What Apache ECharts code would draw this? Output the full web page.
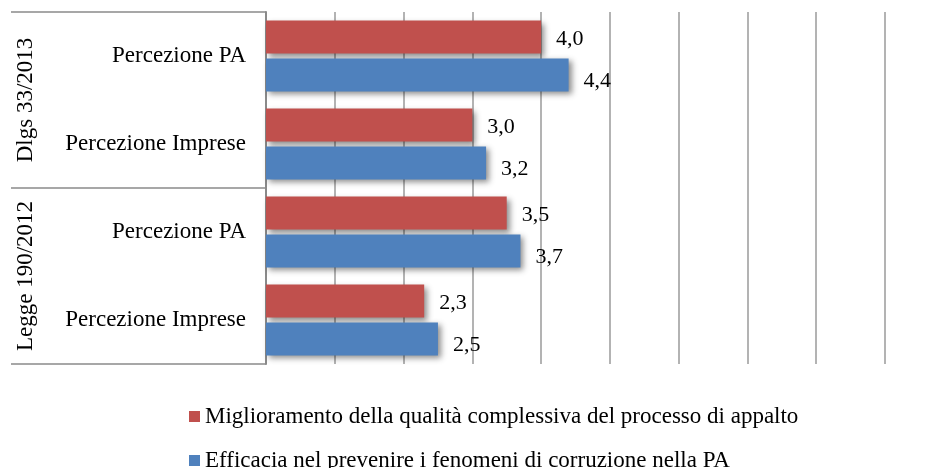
<!DOCTYPE html>
<html><head><meta charset="utf-8">
<script src="https://cdn.jsdelivr.net/npm/echarts@6/dist/echarts.min.js"></script>
<style>html,body{margin:0;padding:0;background:#fff}#c{width:942px;height:468px}</style>
</head><body><div id="c"></div>
<script>
var categories = ['Percezione PA', 'Percezione Imprese', 'Percezione PA', 'Percezione Imprese'];
var groups = ['Dlgs 33/2013', 'Legge 190/2012'];
var seriesNames = ['Miglioramento della qualità complessiva del processo di appalto', 'Efficacia nel prevenire i fenomeni di corruzione nella PA'];
var qualita = [4.0, 3.0, 3.5, 2.3];
var efficacia = [4.4, 3.2, 3.7, 2.5];
var xMin = 0, xMax = 9, xInterval = 1;

var FONT = 'Liberation Serif';
var chart = echarts.init(document.getElementById('c'), null, {renderer: 'canvas'});
function lbl(p){ return p.value.toFixed(1).replace('.', ','); }
var shadow = {shadowBlur: 6, shadowColor: 'rgba(0,0,0,0.45)', shadowOffsetX: 3, shadowOffsetY: 3};
var legendBase = {orient: 'horizontal', left: 184, itemWidth: 11, itemHeight: 11, icon: 'rect',
  textStyle: {fontFamily: FONT, fontSize: 23, color: '#000'}};
chart.setOption({
  animation: false,
  textStyle: {fontFamily: FONT},
  grid: {left: 266, right: 57, top: 12, bottom: 104, containLabel: false},
  xAxis: {
    type: 'value', min: xMin, max: xMax, interval: xInterval,
    axisLabel: {show: false}, axisLine: {show: false}, axisTick: {show: false},
    splitLine: {show: true, lineStyle: {color: '#9a9a9a', width: 1.5}}
  },
  yAxis: [{
    type: 'category', data: categories, inverse: true,
    axisLine: {show: true, lineStyle: {color: '#8a8a8a', width: 2}},
    axisTick: {show: false},
    axisLabel: {fontFamily: FONT, fontSize: 23, color: '#000', margin: 20, interval: 0}
  }, {
    type: 'category', data: groups, inverse: true, position: 'left',
    axisLine: {show: false},
    axisTick: {show: true, length: 255, lineStyle: {color: '#8a8a8a', width: 1.5}},
    axisLabel: {fontFamily: FONT, fontSize: 23, color: '#000', rotate: 90, margin: 229, interval: 0, hideOverlap: false}
  }],
  legend: [
    Object.assign({top: 400, data: [seriesNames[0]]}, legendBase),
    Object.assign({top: 444, data: [seriesNames[1]]}, legendBase)
  ],
  series: [{
    name: seriesNames[0], type: 'bar', data: qualita, barWidth: 33, barGap: '15%',
    itemStyle: Object.assign({color: '#C0504D'}, shadow),
    label: {show: true, position: 'right', distance: 15, formatter: lbl, fontFamily: FONT, fontSize: 22, color: '#000', offset: [0, 2]}
  }, {
    name: seriesNames[1], type: 'bar', data: efficacia, barWidth: 33, barGap: '15%',
    itemStyle: Object.assign({color: '#4F81BD'}, shadow),
    label: {show: true, position: 'right', distance: 15, formatter: lbl, fontFamily: FONT, fontSize: 22, color: '#000', offset: [0, 6]}
  }]
});
</script></body></html>
